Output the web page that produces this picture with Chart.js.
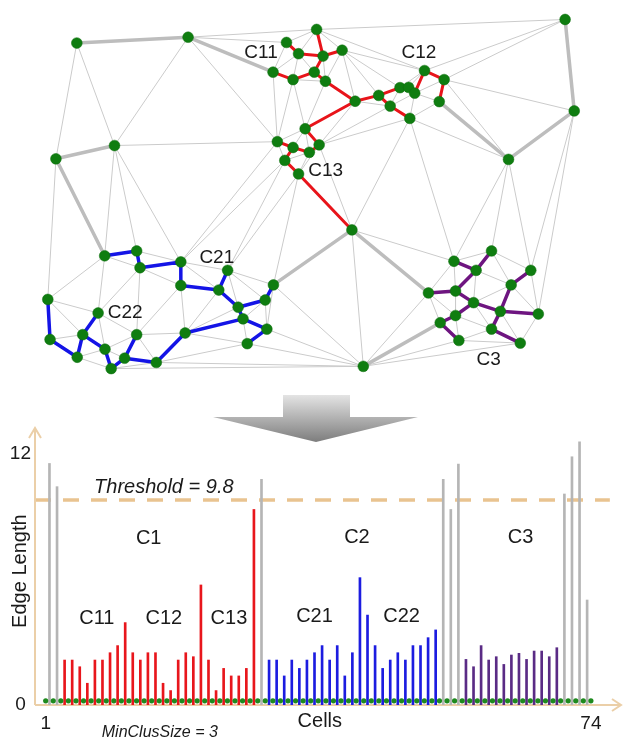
<!DOCTYPE html>
<html><head><meta charset="utf-8">
<script src="https://cdn.jsdelivr.net/npm/chart.js@4.4.0/dist/chart.umd.min.js"></script>
<style>
html,body{margin:0;padding:0;background:#fff;}
#wrap{position:relative;width:623px;height:746px;overflow:hidden;background:#fff;}
#netBox{position:absolute;left:0;top:0;width:623px;height:390px;}
#barBox{position:absolute;left:0;top:390px;width:623px;height:356px;}
</style></head><body>
<div id="wrap">
<div id="netBox"><canvas id="net" width="623" height="390"></canvas></div>
<div id="barBox"><canvas id="bars" width="623" height="356"></canvas></div>
</div>
<script>
// ---------------- NETWORK DATA (node positions) ----------------
const nodeNames = ['A1','A2','A3','A4','B1','B2','B3','B4','B5','B6','B7','B8','B9','B10','B11','B12','B13','B14','C6','C2','C3','C7','C8','B15','B16','B17','B18','B19','B20','B21','C1','C9','C10','E1','D1','D2','D3','D4','D5','D6','D7','D8','D9','D10','D11','D12','D13','D14','D15','D16','D17','E2','E4','E5','E6','E7','E8','E9','E10','F1','F2','F3','F4','F5','F6','F7','F8','F9','F10','F11','F12','F13','F14','F15'];
const nodeX = [72.3,185.7,110.7,51,316.7,286,298.3,323.3,342.7,272.3,292.7,314.3,325.7,356,380,391.7,401.7,410.5,416.7,426.7,446.7,441.7,411.7,305,276.7,292.7,309.3,319.3,284.3,298.3,570,579.3,512.3,352.7,100.7,133.3,136.7,178.3,178.3,217,42.7,94,78.3,45,133.3,182.7,101,72.7,121,153.3,107.3,226,272.7,264.3,236.7,241.7,266,246,364.3,495,456.7,479.3,535,515,430.7,458.3,476.7,504,542.7,458.3,442.7,495,461.7,524.3];
const nodeY = [38.3,32.3,144,157.7,24.3,37.7,49.3,51.7,45.7,68.3,76,68.3,77.7,98.3,92.3,103.3,84.3,84,90,66.7,76,98.7,116,126.7,140,146,151,143.3,159.3,173.3,14,108.3,158.3,231,257.7,252.7,270,264,288.3,293,302.7,316.7,339,344,339,337.3,354,362.3,363.3,367.7,374,272.7,287.7,303.3,310.7,322.7,333.3,348.3,371.7,252.7,263.3,272.7,272.7,287.7,296,294,306,315,317.7,319.3,326.7,333.3,345,347.7];

const c1Links = [['B1','B4'],['B2','B3'],['B3','B4'],['B4','B5'],['B4','B8'],['B8','B7'],['B7','B6'],['B8','B9'],['B9','B10'],['B10','B11'],['B11','B13'],['B13','B14'],['B14','C6'],['C6','C2'],['C2','C3'],['C3','C7'],['B11','B12'],['B12','C8'],['B10','B15'],['B15','B19'],['B19','B18'],['B18','B17'],['B17','B16'],['B17','B20'],['B20','B21'],['B21','E1']];
const c2Links = [['D1','D2'],['D2','D3'],['D3','D4'],['D4','D5'],['D5','D6'],['D6','E2'],['D6','E6'],['E6','E5'],['E5','E4'],['E6','E7'],['E7','E8'],['E8','E9'],['E7','D12'],['D12','D16'],['D16','D15'],['D15','D11'],['D15','D17'],['D17','D13'],['D13','D9'],['D9','D8'],['D9','D14'],['D14','D10'],['D10','D7']];
const c3Links = [['F1','F3'],['F2','F3'],['F3','F7'],['F6','F7'],['F7','F8'],['F8','F9'],['F9','F10'],['F5','F4'],['F5','F9'],['F9','F13'],['F13','F15'],['F8','F11'],['F11','F12'],['F12','F14']];
const longLinks = [['A1','A2'],['A2','B6'],['A3','A4'],['A4','D1'],['C1','C9'],['C9','C10'],['C10','C7'],['E1','E4'],['E1','F6'],['E10','F12']];

const netLabels = ['C11','C12','C13','C21','C22','C3'];
const netLabelX = [260,421,326,215,121.5,492];
const netLabelY = [48,48,170,260,316,365];

// ---------------- BAR DATA (edge lengths) ----------------
const gapStart = [11.55, 10.44];
const c1Edges = [2.15,2.15,1.83,1.04,2.15,2.15,2.50,2.84,3.94,2.50,2.15,2.50,2.50,1.04,0.69,2.15,2.50,2.31,5.74,2.15,0.69,1.75,1.39,1.39,1.75,9.35];
const gapC1C2 = [10.79];
const c2Edges = [2.15,2.15,1.39,2.15,1.75,2.15,2.50,2.84,2.15,2.84,1.39,2.50,6.09,4.30,2.84,1.75,2.15,2.50,2.15,2.84,2.84,3.22,3.59];
const gapC2C3 = [10.79, 9.35, 11.52];
const c3Edges = [2.18,1.83,2.84,2.15,2.31,1.94,2.39,2.47,2.18,2.58,2.58,2.31,2.74];
const gapEnd = [10.09, 11.87, 12.59, 5.02];
const cellCount = 73;
const threshold = 9.8;
const xTickValues = [1, 73];
const xTickLabels = ['1', '74'];
const yTickValues = [0, 12];
const yTickLabels = ['0', '12'];
const annoTexts = ['C1','C2','C3','C11','C12','C13','C21','C22'];
const annoX = [14.6, 42.1, 63.7, 7.76, 16.6, 25.2, 36.5, 48.0];
const annoY = [7.98, 8.03, 8.03, 4.16, 4.16, 4.16, 4.21, 4.21];

// ---------------- build network datasets ----------------
const FONT = '"Liberation Sans", Arial, Helvetica, sans-serif';
const idx = {}; nodeNames.forEach((n,i)=>idx[n]=i);
const pts = nodeNames.map((n,i)=>({x:nodeX[i], y:nodeY[i]}));
function segs(pairs){
  const out=[];
  pairs.forEach(([a,b])=>{ const p=pts[idx[a]], q=pts[idx[b]]; out.push({x:p.x,y:p.y},{x:q.x,y:q.y},{x:q.x,y:null}); });
  return out;
}
function delaunay(P0){
  const n=P0.length; const P=P0.map(p=>[p.x,p.y]);
  let minX=Infinity,minY=Infinity,maxX=-Infinity,maxY=-Infinity;
  P.forEach(([x,y])=>{minX=Math.min(minX,x);minY=Math.min(minY,y);maxX=Math.max(maxX,x);maxY=Math.max(maxY,y);});
  const dm=Math.max(maxX-minX,maxY-minY)*20, mx=(minX+maxX)/2, my=(minY+maxY)/2;
  P.push([mx-dm,my-dm],[mx,my+dm],[mx+dm,my-dm]);
  function circ(t){
    const [ax,ay]=P[t[0]],[bx,by]=P[t[1]],[cx,cy]=P[t[2]];
    const d=2*(ax*(by-cy)+bx*(cy-ay)+cx*(ay-by));
    const ux=((ax*ax+ay*ay)*(by-cy)+(bx*bx+by*by)*(cy-ay)+(cx*cx+cy*cy)*(ay-by))/d;
    const uy=((ax*ax+ay*ay)*(cx-bx)+(bx*bx+by*by)*(ax-cx)+(cx*cx+cy*cy)*(bx-ax))/d;
    return [ux,uy,(ax-ux)**2+(ay-uy)**2];
  }
  let tris=[{v:[n,n+1,n+2]}]; tris[0].c=circ(tris[0].v);
  for(let i=0;i<n;i++){
    const [px,py]=P[i]; const keep=[], cnt=new Map();
    tris.forEach(t=>{
      const [ux,uy,r2]=t.c;
      if((px-ux)**2+(py-uy)**2<r2){
        const v=t.v;[[v[0],v[1]],[v[1],v[2]],[v[2],v[0]]].forEach(([a,b])=>{const k=a<b?a+','+b:b+','+a;cnt.set(k,(cnt.get(k)||0)+1);});
      } else keep.push(t);
    });
    cnt.forEach((c,k)=>{ if(c===1){ const [a,b]=k.split(',').map(Number); const t={v:[a,b,i]}; t.c=circ(t.v); keep.push(t);} });
    tris=keep;
  }
  const E=new Set();
  tris.forEach(t=>{const v=t.v;[[v[0],v[1]],[v[1],v[2]],[v[2],v[0]]].forEach(([a,b])=>{ if(a<n&&b<n){E.add(a<b?a+','+b:b+','+a);} });});
  return [...E].map(k=>k.split(',').map(Number));
}
const thinPairs = delaunay(pts).map(([a,b])=>[nodeNames[a],nodeNames[b]]);

const netLabelPlugin = {
  id:'netLabels',
  afterDatasetsDraw(chart){
    const {ctx, scales:{x,y}} = chart;
    ctx.save(); ctx.font = '19px '+FONT; ctx.fillStyle='#1a1a1a'; ctx.textAlign='center'; ctx.textBaseline='middle';
    netLabels.forEach((t,i)=>ctx.fillText(t, x.getPixelForValue(netLabelX[i]), y.getPixelForValue(netLabelY[i])));
    ctx.restore();
  }
};

const lineDs = (label, pairs, color, width, order)=>({type:'scatter', label, data:segs(pairs), showLine:true, spanGaps:false, borderColor:color, borderWidth:width, pointRadius:0, order, clip:false, borderCapStyle:'round'});

new Chart(document.getElementById('net'), {
  type:'scatter',
  data:{datasets:[
    {label:'Cells', data:pts, pointRadius:5.4, pointBackgroundColor:'#0f7d10', pointBorderColor:'#0c6e0c', pointBorderWidth:0.5, showLine:false, order:0, clip:false},
    lineDs('C1 links', c1Links, '#e8141a', 3, 1),
    lineDs('C2 links', c2Links, '#1414e6', 3.5, 1),
    lineDs('C3 links', c3Links, '#6e1580', 3.5, 1),
    lineDs('Long links', longLinks, '#bdbdbd', 3.5, 2),
    lineDs('Triangulation', thinPairs, '#cbcbcb', 1, 3)
  ]},
  options:{responsive:false, animation:false, devicePixelRatio:1, events:[], layout:{padding:0},
    plugins:{legend:{display:false}, tooltip:{enabled:false}},
    scales:{x:{type:'linear',min:0,max:623,display:false}, y:{type:'linear',min:0,max:390,reverse:true,display:false}}},
  plugins:[netLabelPlugin]
});

// ---------------- bar chart ----------------
const GRAY='#b5b5b5', RED='#e8161c', BLUE='#1c1ce0', PURPLE='#5a2b85';
const groups = [[gapStart,GRAY],[c1Edges,RED],[gapC1C2,GRAY],[c2Edges,BLUE],[gapC2C3,GRAY],[c3Edges,PURPLE],[gapEnd,GRAY]];
const barVals=[], barCols=[];
groups.forEach(([vals,col])=>vals.forEach(v=>{barVals.push(v);barCols.push(col);}));
const barData = barVals.map((v,i)=>({x:i+1.5, y:v}));
const dotData = Array.from({length:cellCount},(_,i)=>({x:i+1, y:0.2}));

const xMin=-0.41, xMax=76.71, yMax=13.15;
const AXIS='#ebcfa8';

const decoPlugin = {
  id:'deco',
  beforeDatasetsDraw(chart){
    const {ctx, chartArea:ca, scales:{x,y}} = chart;
    ctx.save();
    // big down arrow
    const g = ctx.createLinearGradient(0,4,0,52);
    g.addColorStop(0,'#e6e6e6'); g.addColorStop(1,'#7d7d7d');
    ctx.fillStyle=g;
    ctx.beginPath();
    ctx.moveTo(283,5); ctx.lineTo(350,5); ctx.lineTo(350,27); ctx.lineTo(418,27); ctx.lineTo(316,52); ctx.lineTo(213,27); ctx.lineTo(283,27); ctx.closePath();
    ctx.fill();
    // threshold
    const ty = y.getPixelForValue(threshold);
    ctx.strokeStyle='#e9c390'; ctx.lineWidth=3.5; ctx.setLineDash([16,12]);
    ctx.beginPath(); ctx.moveTo(ca.left, ty); ctx.lineTo(x.getPixelForValue(75.5), ty); ctx.stroke();
    ctx.setLineDash([]);
    // axes with arrows
    ctx.strokeStyle=AXIS; ctx.lineWidth=2;
    ctx.beginPath(); ctx.moveTo(ca.left, ca.bottom); ctx.lineTo(ca.left, ca.top-2); ctx.stroke();
    ctx.beginPath(); ctx.moveTo(ca.left-6, ca.top+8); ctx.lineTo(ca.left, ca.top-2); ctx.lineTo(ca.left+6, ca.top+8); ctx.stroke();
    ctx.beginPath(); ctx.moveTo(ca.left, ca.bottom); ctx.lineTo(ca.right+2, ca.bottom); ctx.stroke();
    ctx.beginPath(); ctx.moveTo(ca.right-7, ca.bottom-6); ctx.lineTo(ca.right+2, ca.bottom); ctx.lineTo(ca.right-7, ca.bottom+6); ctx.stroke();
    ctx.restore();
  },
  afterDatasetsDraw(chart){
    const {ctx, chartArea:ca, scales:{x,y}} = chart;
    ctx.save(); ctx.fillStyle='#1a1a1a'; ctx.textAlign='center'; ctx.textBaseline='middle';
    ctx.font='20px '+FONT;
    annoTexts.forEach((t,i)=>ctx.fillText(t, x.getPixelForValue(annoX[i]), y.getPixelForValue(annoY[i])));
    ctx.font='italic 20px '+FONT;
    ctx.fillText('Threshold = 9.8', x.getPixelForValue(16.6), y.getPixelForValue(10.42));
    ctx.font='20px '+FONT;
    ctx.fillText('Cells', x.getPixelForValue(37.2), y.getPixelForValue(-0.81));
    ctx.font='italic 16px '+FONT;
    ctx.fillText('MinClusSize = 3', x.getPixelForValue(16.07), y.getPixelForValue(-1.34));
    ctx.font='20px '+FONT;
    ctx.translate(ca.left-14.5, y.getPixelForValue(6.4)); ctx.rotate(-Math.PI/2);
    ctx.fillText('Edge Length', 0, 0);
    ctx.restore();
  }
};

new Chart(document.getElementById('bars'), {
  type:'bar',
  data:{datasets:[
    {type:'line', label:'Cells', data:dotData, showLine:false, pointRadius:2.6, pointBackgroundColor:'#1e8a1e', pointBorderWidth:0, order:0, clip:false},
    {type:'bar', label:'Edge length', data:barData, backgroundColor:barCols, borderWidth:0, barThickness:2, grouped:false, order:1}
  ]},
  options:{responsive:false, animation:false, devicePixelRatio:1, events:[],
    layout:{padding:{top:40,left:0,right:3,bottom:0}},
    plugins:{legend:{display:false}, tooltip:{enabled:false}},
    scales:{
      x:{type:'linear', min:xMin, max:xMax, offset:false, grid:{display:false, drawTicks:false}, border:{display:false},
        afterBuildTicks:s=>{s.ticks=xTickValues.map(v=>({value:v}));},
        afterFit:s=>{s.height=41;},
        ticks:{autoSkip:false, maxRotation:0, padding:7, color:'#1a1a1a', font:{family:FONT,size:19}, callback:(v,i)=>xTickLabels[i]}},
      y:{type:'linear', min:0, max:yMax, grid:{display:false, drawTicks:false}, border:{display:false},
        afterBuildTicks:s=>{s.ticks=yTickValues.map(v=>({value:v}));},
        afterFit:s=>{s.width=35;},
        ticks:{crossAlign:'center', padding:4, color:'#1a1a1a', font:{family:FONT,size:19}, callback:(v,i)=>yTickLabels[i]}}
    }},
  plugins:[decoPlugin]
});
</script>
</body></html>
